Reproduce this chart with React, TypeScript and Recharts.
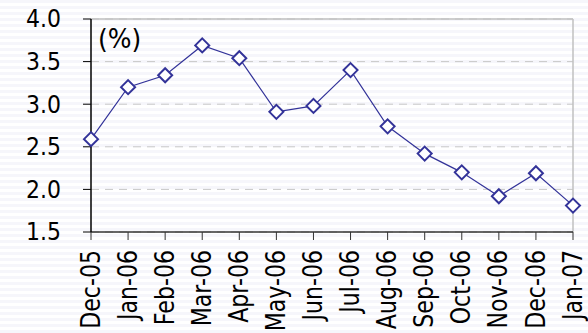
import { LineChart, Line, XAxis, YAxis, CartesianGrid, ReferenceLine } from "recharts";

const months = [
  "Dec-05", "Jan-06", "Feb-06", "Mar-06", "Apr-06", "May-06", "Jun-06",
  "Jul-06", "Aug-06", "Sep-06", "Oct-06", "Nov-06", "Dec-06", "Jan-07",
];
const rates = [2.59, 3.2, 3.34, 3.69, 3.54, 2.91, 2.98, 3.4, 2.74, 2.42, 2.2, 1.92, 2.19, 1.81];
const yTicks = [1.5, 2.0, 2.5, 3.0, 3.5, 4.0];

const data = months.map((m, i) => ({ month: m, value: rates[i] }));

const FONT = "'DejaVu Sans', Verdana, sans-serif";

function Diamond(props: any) {
  const { cx, cy, index } = props;
  if (cx == null || cy == null) return null;
  const r = 7;
  return (
    <path
      key={index}
      d={`M${cx},${cy - r} L${cx + r},${cy} L${cx},${cy + r} L${cx - r},${cy} Z`}
      fill="#fff"
      stroke="#333399"
      strokeWidth={2}
    />
  );
}

// rotated month label, squeezed a bit along its length like the original
function MonthTick(props: any) {
  const { x, y, payload } = props;
  return (
    <text
      x={0}
      y={0}
      transform={`translate(${x},${y}) rotate(-90) scale(0.85,1)`}
      textAnchor="end"
      dominantBaseline="central"
      fontFamily={FONT}
      fontSize={26}
      fill="#000"
    >
      {payload.value}
    </text>
  );
}

function ValueTick(props: any) {
  const { x, y, payload } = props;
  return (
    <text
      x={0}
      y={0}
      transform={`translate(${x},${y}) scale(1,1.1)`}
      textAnchor="end"
      dominantBaseline="central"
      fontFamily={FONT}
      fontSize={22}
      fill="#000"
    >
      {Number(payload.value).toFixed(1)}
    </text>
  );
}

export default function App() {
  return (
    <div
      style={{
        position: "absolute",
        left: 0,
        top: 0,
        width: 588,
        height: 333,
        background: "repeating-linear-gradient(to bottom, #f6f6fb 0px, #f6f6fb 3px, #ffffff 3px, #ffffff 6px)",
      }}
    >
      <LineChart width={588} height={333} data={data} margin={{ top: 19, right: 15, left: 0, bottom: 0 }}>
        <CartesianGrid vertical={false} stroke="#c8c8c8" strokeDasharray="8 6" />
        <ReferenceLine y={4} stroke="#c0c0c0" strokeWidth={1.5} />
        <ReferenceLine x="Jan-07" stroke="#c0c0c0" strokeWidth={1.5} />
        <XAxis
          dataKey="month"
          interval={0}
          height={101}
          tickSize={8}
          tickMargin={10}
          axisLine={{ stroke: "#333", strokeWidth: 1.5 }}
          tickLine={{ stroke: "#333" }}
          tick={<MonthTick />}
        />
        <YAxis
          domain={[1.5, 4]}
          ticks={yTicks}
          width={91}
          tickSize={8}
          tickMargin={22}
          axisLine={{ stroke: "#000", strokeWidth: 1.5 }}
          tickLine={{ stroke: "#000" }}
          tick={<ValueTick />}
        />
        <Line
          type="linear"
          dataKey="value"
          stroke="#333399"
          strokeWidth={1.2}
          dot={<Diamond />}
          activeDot={false}
          isAnimationActive={false}
        />
      </LineChart>
      <div
        style={{
          position: "absolute",
          left: 98,
          top: 26,
          fontFamily: FONT,
          fontSize: 25,
          lineHeight: "26px",
          color: "#000",
          transform: "scaleY(1.05)",
          transformOrigin: "left top",
        }}
      >
        (%)
      </div>
    </div>
  );
}
